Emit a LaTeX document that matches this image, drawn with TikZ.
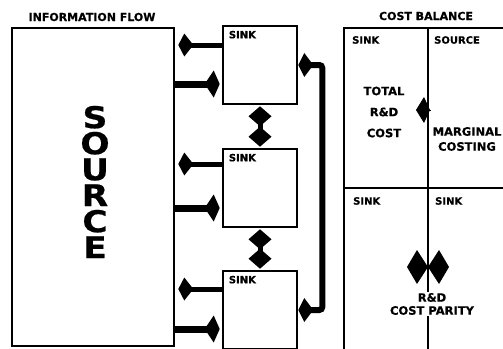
\documentclass[tikz,border=0pt]{standalone}
\usepackage{fontspec}
\setmainfont{DejaVu Sans}[BoldFeatures={FakeBold=0.6}]
\newfontfamily\srcfont{DejaVu Sans}[FakeStretch=1.15, BoldFeatures={FakeBold=0.6}]
\usepackage{tikz}
\usetikzlibrary{positioning,arrows.meta,calc}

\begin{document}
\begin{tikzpicture}[x=1pt, y=-1pt,
  box/.style={draw, line width=2.6pt, minimum width=74pt, minimum height=78pt, inner sep=0pt},
  lbl/.style={font=\bfseries\fontsize{10}{11}\selectfont, inner sep=0pt},
  plbl/.style={font=\bfseries\fontsize{10}{11}\selectfont, inner sep=0pt},
  title/.style={font=\bfseries\fontsize{11}{12}\selectfont},
  midtext/.style={font=\bfseries\fontsize{11.5}{15}\selectfont, align=center, inner sep=1pt},
  inflow/.style={-{Kite[length=15pt,width=23pt,inset=9pt]}, line width=5pt, shorten >=3pt},
  outflow/.style={-{Kite[length=15pt,width=27pt,inset=9pt]}, line width=7pt, shorten >=2pt},
  linkarrow/.style={{Kite[length=20pt,width=23pt,inset=10pt]}-{Kite[length=20pt,width=23pt,inset=10pt]},
                    line width=5pt, shorten <=1pt, shorten >=1pt},
  feedback/.style={{Kite[length=15pt,width=24pt,inset=9pt]}-{Kite[length=15pt,width=24pt,inset=9pt]},
                   line width=6pt, rounded corners=3pt},
  panel/.style={line width=2.4pt}
]
  \fill[white] (0,0) rectangle (503,348);
  \clip (0,0) rectangle (503,348);

  % information flow
  \node[title] (infotitle) at (92,17) {INFORMATION FLOW};
  \node[draw, line width=2.6pt, minimum width=162pt, minimum height=318pt, inner sep=0pt] (source) at (93,187) {};
  \node[font=\srcfont\bfseries\fontsize{30}{26}\selectfont, align=center, inner sep=0pt] (srcname) at (95,182) {S\\O\\U\\R\\C\\E};

  \node[box] (sink1) at (260,65) {};
  \node[box] (sink2) at (260,188) {};
  \node[box] (sink3) at (260,310) {};
  \foreach \s in {sink1,sink2,sink3}
    \node[lbl, below right=6pt and 7pt of \s.north west] {SINK};

  \coordinate (i1) at ($(sink1.west)+(0,-20)$);
  \coordinate (o1) at ($(sink1.west)+(0,19)$);
  \coordinate (i2) at ($(sink2.west)+(0,-24)$);
  \coordinate (o2) at ($(sink2.west)+(0,20)$);
  \coordinate (i3) at ($(sink3.west)+(0,-21)$);
  \coordinate (o3) at ($(sink3.west)+(0,19)$);
  \foreach \n in {1,2,3} {
    \draw[inflow] (i\n) -- (i\n -| source.east);
    \draw[outflow] (o\n -| source.east) -- (o\n);
  }

  \draw[linkarrow] (sink1.south) -- (sink2.north);
  \draw[linkarrow] (sink2.south) -- (sink3.north);
  \draw[feedback] (sink1.east) -- ++(24,0) |- (sink3.east);

  % cost balance
  \node[title] (costtitle) at (426,16) {COST BALANCE};
  \coordinate (cbtl) at (344,28);
  \coordinate (cbtm) at (428,28);
  \coordinate (cbml) at (344,188);
  \draw[panel] (cbtl -| 510,0) -- (cbtl) -- (344,352);
  \draw[panel] (cbtm) -- (428,352);
  \draw[panel] (cbml) -- (510,188);

  \node[plbl, anchor=north west] (sinka) at (352,36) {SINK};
  \node[plbl, anchor=north west] (srca) at (434,36) {SOURCE};
  \node[plbl, anchor=north west] (sinkb) at (353,197) {SINK};
  \node[plbl, anchor=north west] (sinkc) at (435,197) {SINK};

  \node[midtext, font=\bfseries\fontsize{11.5}{21}\selectfont] (total) at (384,112) {TOTAL\\R\&D\\COST};
  \node[midtext] (marginal) at (467,139) {MARGINAL\\COSTING};

  \coordinate (balback) at (431,110);
  \coordinate (baltip) at (416,110);
  \draw[-{Kite[length=14pt,width=26pt,inset=6pt]}, line width=1pt] (balback) -- (baltip);

  \coordinate (parl) at (407,267);
  \coordinate (parr) at (449,267);
  \draw[{Kite[length=21pt,width=34pt,inset=11pt]}-{Kite[length=21pt,width=34pt,inset=11pt]}, line width=2pt] (parl) -- (parr);
  \node[midtext, fill=white, font=\bfseries\fontsize{11.5}{13}\selectfont] (parity) at (432,304) {R\&D\\COST PARITY};
\end{tikzpicture}
\end{document}
